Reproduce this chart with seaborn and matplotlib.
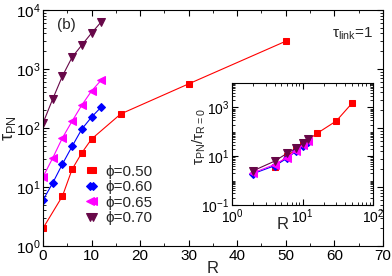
"""
Relaxation time tau_PN vs R for several packing fractions, with scaled inset.
"""

import matplotlib
matplotlib.use("Agg")
import matplotlib.pyplot as plt
from matplotlib.ticker import (LogLocator, MultipleLocator, NullFormatter,
                               FixedLocator)
import seaborn as sns
import numpy as np

# data
r_050 = [0, 4, 6, 8, 10, 16, 30, 50]
tau_050 = [2.0, 7.0, 20, 38, 65, 173, 560, 2960]

r_060 = [0, 2, 4, 6, 8, 10, 12]
tau_060 = [6.0, 11.7, 24.5, 49, 96, 153, 227]

r_065 = [0, 2, 4, 6, 8, 10, 12]
tau_065 = [14.8, 31, 68, 131, 245, 424, 650]

r_070 = [0, 2, 4, 6, 8, 10, 12]
tau_070 = [121, 310, 760, 1590, 2550, 4070, 6300]

labels = ["ϕ=0.50", "ϕ=0.60", "ϕ=0.65", "ϕ=0.70"]
colors = ["#ff0000", "#0000ff", "#ff00ff", "#670748"]
markers = ["s", "D", "<", "v"]
msizes = [5, 4, 5.5, 5.5]

inset_yticks = [0.1, 10, 1000]

series = [(r_050, tau_050), (r_060, tau_060), (r_065, tau_065), (r_070, tau_070)]

sns.set_theme(style="ticks")
plt.rcParams["font.family"] = ["Liberation Sans", "DejaVu Sans"]
plt.rcParams["mathtext.fontset"] = "custom"
plt.rcParams["mathtext.rm"] = "Liberation Sans"
plt.rcParams["mathtext.it"] = "Liberation Sans:italic"
plt.rcParams["axes.linewidth"] = 0.8
plt.rcParams["axes.edgecolor"] = "black"

fig = plt.figure(figsize=(3.92, 2.76), dpi=100)
ax = fig.add_axes([0.1097, 0.1087, 0.867, 0.855])

for (r, t), lab, c, m, ms in zip(series, labels, colors, markers, msizes):
    sns.lineplot(x=r, y=t, ax=ax, color=c, marker=m, markersize=ms,
                 markeredgecolor=c, linewidth=0.8, label=lab)

ax.set_yscale("log")
ax.set_xlim(0, 70)
ax.set_ylim(1, 1e4)
ax.xaxis.set_major_locator(MultipleLocator(10))
ax.xaxis.set_minor_locator(MultipleLocator(5))
ax.yaxis.set_major_locator(LogLocator(base=10, numticks=10))
ax.yaxis.set_minor_locator(LogLocator(base=10, subs=np.arange(2, 10), numticks=10))
ax.yaxis.set_minor_formatter(NullFormatter())
ax.tick_params(which="both", direction="in", top=True, right=True,
               labelsize=11, colors="black", pad=2)
ax.tick_params(which="major", length=4, width=0.8)
ax.tick_params(which="minor", length=2, width=0.6)

ax.set_xlabel("R", fontsize=12, labelpad=-1)
ax.set_ylabel("τ$_{\\rm PN}$", fontsize=13)
ax.yaxis.set_label_coords(-0.075, 0.5)

ax.text(0.04, 0.936, "(b)", transform=ax.transAxes, fontsize=11, va="center")
ax.text(0.91, 0.90, "τ$_{\\rm link}$=1", transform=ax.transAxes, fontsize=11,
        ha="center", va="center")

ax.legend(loc="upper left", bbox_to_anchor=(0.125, 0.345), frameon=False,
          fontsize=11, numpoints=2, handlelength=0.8, handletextpad=0.5,
          labelspacing=0.1, borderaxespad=0, borderpad=0)

# inset: tau normalised by the R=0 value
ins = fig.add_axes([0.592, 0.257, 0.36, 0.442])
for (r, t), c, m, ms in zip(series, colors, markers, msizes):
    r = np.array(r, dtype=float)
    t = np.array(t, dtype=float)
    sns.lineplot(x=r[1:], y=t[1:] / t[0], ax=ins, color=c, marker=m,
                 markersize=ms, markeredgecolor=c, linewidth=0.8)

ins.set_xscale("log")
ins.set_yscale("log")
ins.set_xlim(1, 100)
ins.set_ylim(0.1, 1e4)
ins.yaxis.set_major_locator(FixedLocator(inset_yticks))
ins.yaxis.set_minor_locator(LogLocator(base=10, subs=np.arange(1, 10), numticks=20))
ins.yaxis.set_minor_formatter(NullFormatter())
ins.xaxis.set_major_locator(LogLocator(base=10, numticks=10))
ins.xaxis.set_minor_locator(LogLocator(base=10, subs=np.arange(2, 10), numticks=10))
ins.xaxis.set_minor_formatter(NullFormatter())
ins.tick_params(which="both", direction="in", top=True, right=True,
                labelsize=10, colors="black", pad=2)
ins.tick_params(which="major", length=4, width=0.8)
ins.tick_params(which="minor", length=2, width=0.6)
ins.set_xlabel("R", fontsize=12)
ins.xaxis.set_label_coords(0.355, -0.1)
ins.set_ylabel("τ$_{\\rm PN}$/τ$_{\\rm R=0}$", fontsize=11)
ins.yaxis.set_label_coords(-0.17, 0.56)

fig.savefig("out.png", dpi=100)
